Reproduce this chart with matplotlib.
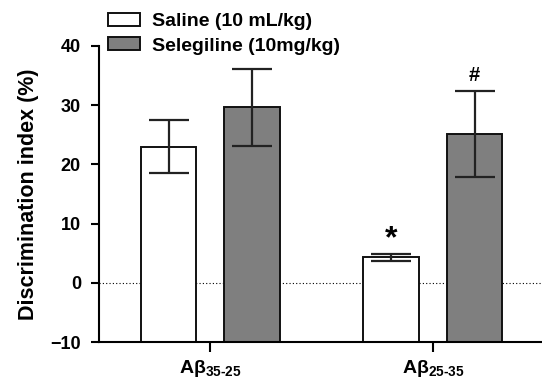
import matplotlib
matplotlib.use('Agg')
import matplotlib.pyplot as plt
import numpy as np

plt.rcParams['font.family'] = ['Liberation Sans', 'DejaVu Sans']
plt.rcParams['font.weight'] = 'bold'
plt.rcParams['mathtext.fontset'] = 'custom'
plt.rcParams['mathtext.bf'] = 'Liberation Sans:bold'
plt.rcParams['mathtext.rm'] = 'Liberation Sans:bold'
plt.rcParams['mathtext.default'] = 'bf'

groups = [r'A$\beta_{35\text{-}25}$', r'A$\beta_{25\text{-}35}$']
series = ['Saline (10 mL/kg)', 'Selegiline (10mg/kg)']
saline = [23.0, 4.3]
saline_err = [4.5, 0.65]
seleg = [29.6, 25.1]
seleg_err = [6.5, 7.3]
marks = [('*', 0, 1), ('#', 1, 1)]  # (symbol, series, group)
base = -10

fig = plt.figure(figsize=(5.42, 3.78), dpi=100)
ax = fig.add_axes([0.1827, 0.0944, 0.8173, 0.7847])

x = np.arange(len(groups))
w = 0.25
off = 0.1875
ekw = dict(ecolor='#222222', elinewidth=1.6, capsize=14.5, capthick=1.6)
ax.bar(x - off, np.array(saline) - base, w, bottom=base, yerr=saline_err,
       color='white', edgecolor='#111111', linewidth=1.4, error_kw=ekw,
       label=series[0], zorder=2)
ax.bar(x + off, np.array(seleg) - base, w, bottom=base, yerr=seleg_err,
       color='#7f7f7f', edgecolor='#111111', linewidth=1.4, error_kw=ekw,
       label=series[1], zorder=2)

ax.axhline(0, color='black', linestyle=(0, (1, 2)), linewidth=0.8, zorder=1)

vals = [saline, seleg]
errs = [saline_err, seleg_err]
for sym, s, g in marks:
    xx = g + (off if s else -off)
    yy = vals[s][g] + errs[s][g]
    if sym == '*':
        ax.text(xx, yy + 2.5, sym, ha='center', va='center', fontsize=23, fontweight='bold')
    else:
        ax.text(xx, yy + 2.6, sym, ha='center', va='center', fontsize=14.5, fontweight='bold')

ax.set_xlim(-0.5, 1.49)
ax.set_ylim(-10, 40)
ax.set_yticks([-10, 0, 10, 20, 30, 40])
ax.set_xticks(x)
ax.set_xticklabels(groups, fontsize=14, fontweight='bold')
ax.tick_params(axis='y', labelsize=13, length=6, width=1.5, pad=7)
ax.tick_params(axis='x', length=7, width=1.5, pad=4)
for t in ax.get_yticklabels():
    t.set_fontweight('bold')
ax.spines['top'].set_visible(False)
ax.spines['right'].set_visible(False)
ax.spines['left'].set_linewidth(1.5)
ax.spines['bottom'].set_linewidth(1.5)
ax.set_ylabel('Discrimination index (%)', fontsize=15.5, fontweight='bold')
ax.yaxis.set_label_coords(-0.135, 0.5)

leg = ax.legend(loc='upper left', bbox_to_anchor=(108 / 542, 1 - 13 / 378),
                bbox_transform=fig.transFigure, frameon=False, fontsize=14,
                handlelength=1.65, handleheight=0.66, labelspacing=0.35,
                handletextpad=0.62, borderpad=0, borderaxespad=0)
for t in leg.get_texts():
    t.set_fontweight('bold')

fig.savefig('out.png', dpi=100)
